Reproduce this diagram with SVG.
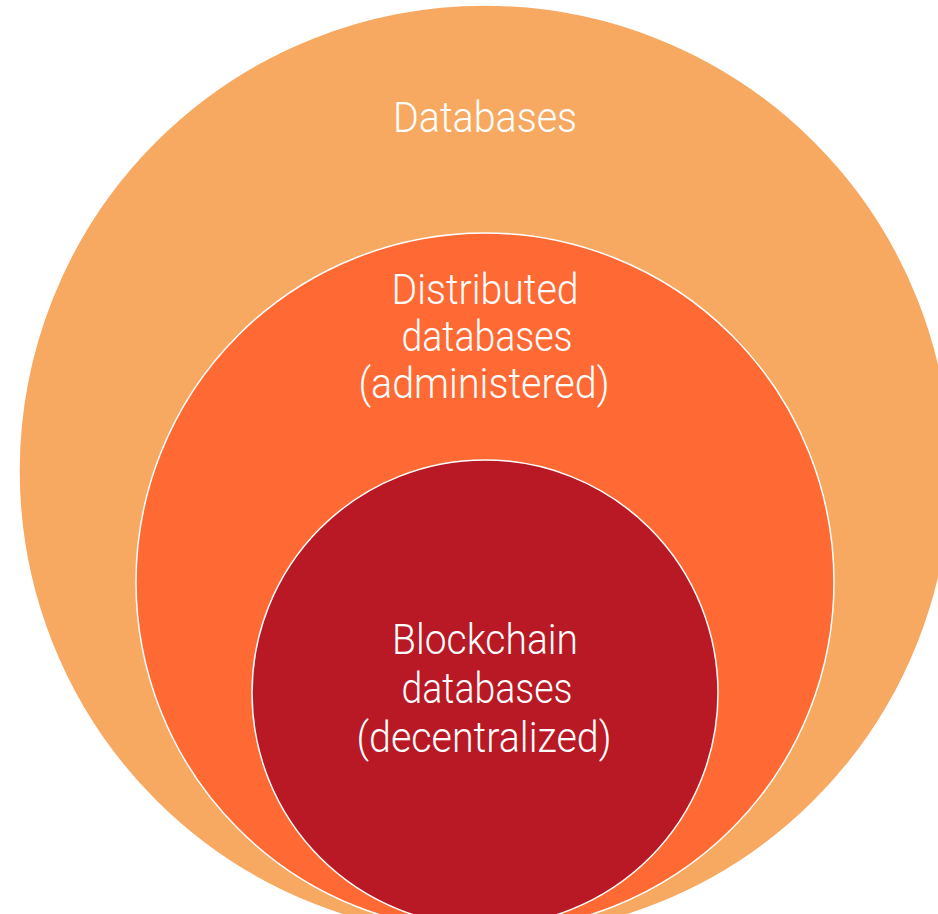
<svg xmlns="http://www.w3.org/2000/svg" width="938" height="914" viewBox="0 0 938 914">
<style>
.lbl{font-family:Roboto,"Liberation Sans",sans-serif;font-weight:300;font-size:42px;fill:#ffffff;text-anchor:middle}
.ring{stroke:#ffffff;stroke-width:1.5}
</style>
<rect width="938" height="914" fill="#ffffff"/>
<g id="databases">
<circle class="ring" cx="485" cy="471" r="466" fill="#F7A962"/>
<text class="lbl" x="485" y="132" textLength="184" lengthAdjust="spacingAndGlyphs">Databases</text>
</g>
<g id="distributed">
<circle class="ring" cx="485" cy="582" r="349" fill="#FF6934"/>
<text class="lbl" x="485" y="304" textLength="187" lengthAdjust="spacingAndGlyphs">Distributed</text>
<text class="lbl" x="487" y="351" textLength="171" lengthAdjust="spacingAndGlyphs">databases</text>
<text class="lbl" x="484" y="398" textLength="251" lengthAdjust="spacingAndGlyphs">(administered)</text>
</g>
<g id="blockchain">
<circle class="ring" cx="485" cy="693" r="233" fill="#B81924"/>
<text class="lbl" x="485" y="654" textLength="186" lengthAdjust="spacingAndGlyphs">Blockchain</text>
<text class="lbl" x="487" y="703" textLength="171" lengthAdjust="spacingAndGlyphs">databases</text>
<text class="lbl" x="484" y="752" textLength="255" lengthAdjust="spacingAndGlyphs">(decentralized)</text>
</g>
<g id="connectors"></g>
</svg>
